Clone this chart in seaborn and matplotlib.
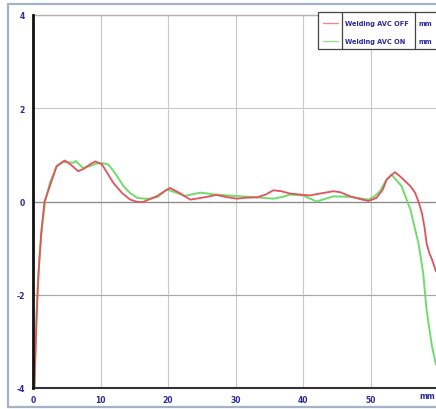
import numpy as np
import pandas as pd
import matplotlib
matplotlib.use("Agg")
import matplotlib.pyplot as plt
import seaborn as sns
from matplotlib.lines import Line2D
from matplotlib.patches import Rectangle

# ---- data ----
x_off = [0.2, 0.5, 0.8, 1.2, 1.7, 2.5, 3.5, 4.7, 5.5, 6.7, 7.5, 8.5, 9.2, 10.2, 11.9,
         13.2, 14.4, 15.5, 16.3, 17.3, 18.3, 19.5, 20.3, 21.5, 23.3, 25, 27.2, 28.5, 30.2,
         31.5, 33.2, 34.5, 35.6, 36.8, 38.1, 39.5, 41, 42.5, 44.5, 45.5, 47, 48.5, 49.7,
         50.9, 51.8, 52.4, 53.6, 54.3, 55.1, 55.9, 56.6, 57.1, 57.6, 58.0, 58.3, 58.7, 59.1, 59.7]
y_off = [-4, -2.6, -1.6, -0.7, 0.0, 0.33, 0.76, 0.88, 0.8, 0.65, 0.7, 0.8, 0.86, 0.8, 0.4,
         0.18, 0.04, -0.01, -0.01, 0.05, 0.11, 0.22, 0.29, 0.2, 0.04, 0.08, 0.14, 0.1, 0.06,
         0.08, 0.09, 0.15, 0.24, 0.22, 0.17, 0.15, 0.13, 0.17, 0.22, 0.2, 0.11, 0.05, 0.01,
         0.08, 0.25, 0.47, 0.63, 0.55, 0.44, 0.33, 0.19, 0.0, -0.24, -0.55, -0.89, -1.1, -1.24, -1.5]

x_on = [0.2, 0.6, 0.9, 1.3, 1.8, 2.5, 3.5, 4.5, 5.3, 6.0, 6.3, 7.4, 8.5, 9.5, 10.5,
        11.2, 12.3, 13.4, 14.4, 15.4, 16.5, 17.3, 18.5, 19.8, 21.0, 22.5, 24.8, 27, 29.7,
        32, 34, 35.6, 37, 38.1, 40, 42, 44.5, 47, 49.7, 50.5, 51.4, 52.3, 53.1, 54.6,
        55.9, 57.1, 57.8, 58.3, 59.1, 59.7]
y_on = [-4, -2.1, -1.3, -0.6, 0.0, 0.4, 0.75, 0.85, 0.84, 0.83, 0.87, 0.72, 0.76, 0.82, 0.82,
        0.79, 0.58, 0.33, 0.18, 0.08, 0.06, 0.06, 0.1, 0.26, 0.2, 0.12, 0.19, 0.15, 0.12,
        0.1, 0.08, 0.06, 0.1, 0.15, 0.13, 0.0, 0.11, 0.1, 0.04, 0.1, 0.22, 0.45, 0.58, 0.33,
        -0.17, -0.89, -1.53, -2.32, -3.1, -3.5]

series_names = ["Welding AVC OFF", "Welding AVC ON"]
series_units = ["mm", "mm"]
x_ticks = [0, 10, 20, 30, 40, 50]
x_tick_labels = ["0", "10", "20", "30", "40", "50"]
y_ticks = [-4, -2, 0, 2, 4]
y_tick_labels = ["-4", "-2", "0", "2", "4"]
x_unit_label = "mm"

RED = "#e4535c"
GREEN = "#70dc6c"
NAVY = "#2a2a9c"

df_off = pd.DataFrame({"x": x_off, "y": y_off})
df_on = pd.DataFrame({"x": x_on, "y": y_on})

sns.set_style("white")
fig = plt.figure(figsize=(4.36, 4.10), dpi=100)
W, H = 436, 410
ax = fig.add_axes([33 / W, 21 / H, (W - 33) / W, 373 / H])

sns.lineplot(data=df_on, x="x", y="y", ax=ax, color=GREEN, linewidth=1.4,
             sort=False, estimator=None, legend=False)
sns.lineplot(data=df_off, x="x", y="y", ax=ax, color=RED, linewidth=1.3,
             sort=False, estimator=None, legend=False)

ax.set_xlim(0, (W - 33) / 6.75)
ax.set_ylim(-4, 4)
ax.set_xlabel("")
ax.set_ylabel("")

ax.set_xticks(x_ticks)
ax.set_xticklabels(x_tick_labels)
ax.set_yticks(y_ticks)
ax.set_yticklabels(y_tick_labels)
ax.set_xticks([5, 15, 25, 35, 45, 55], minor=True)
ax.set_yticks([-3, -1, 1, 3], minor=True)

ax.grid(True, which="major", color="#c8c8c8", linewidth=0.8)
ax.axhline(0, color="#8a8a8a", linewidth=0.9, zorder=1)
ax.axhline(-2, color="#a8a8a8", linewidth=0.8, zorder=1)
ax.axhline(4, color="#b8b0a8", linewidth=1.0, zorder=1, clip_on=False)

for s in ["top", "right"]:
    ax.spines[s].set_visible(False)
ax.spines["left"].set_color("#111111")
ax.spines["left"].set_linewidth(2.0)
ax.spines["bottom"].set_color("#333333")
ax.spines["bottom"].set_linewidth(1.5)
ax.spines["left"].set_zorder(5)

ax.tick_params(axis="both", which="major", direction="inout", length=6, width=1.2,
               color="#222222", labelsize=5.5, labelcolor=NAVY, pad=2)
ax.tick_params(axis="y", which="major", pad=3)
ax.tick_params(axis="both", which="minor", direction="inout", length=4, width=1.0,
               color="#333333")
for lab in ax.get_xticklabels() + ax.get_yticklabels():
    lab.set_fontweight("bold")

# unit label at the right end of the x axis
fig.text(435 / W, (H - 397) / H, x_unit_label, ha="right", va="center", fontsize=5.5,
         color=NAVY, fontweight="bold")

# outer frame of the panel
fig.add_artist(Line2D([8 / W, 8 / W], [2 / H, 405 / H], transform=fig.transFigure,
                      color="#a3b3c6", linewidth=1.6))
fig.add_artist(Line2D([8 / W, 1.0], [405 / H, 405 / H], transform=fig.transFigure,
                      color="#a3b3c6", linewidth=1.6))
fig.add_artist(Line2D([8 / W, 1.0], [2 / H, 2 / H], transform=fig.transFigure,
                      color="#a3b3c6", linewidth=1.6))

# legend table
lx0, lx1, ly_top, ly_bot = 318, 442, 13, 50
fig.add_artist(Rectangle((lx0 / W, (H - ly_bot) / H), (lx1 - lx0) / W, (ly_bot - ly_top) / H,
                         transform=fig.transFigure, facecolor="white",
                         edgecolor="#444444", linewidth=0.9, zorder=10))
for dx in (342, 415):
    fig.add_artist(Line2D([dx / W, dx / W], [(H - ly_bot) / H, (H - ly_top) / H],
                          transform=fig.transFigure, color="#444444", linewidth=0.9, zorder=11))
for i, (name, unit, col) in enumerate(zip(series_names, series_units, ["#ee8a8a", "#98e094"])):
    yy = (H - (24 + 18 * i)) / H
    fig.add_artist(Line2D([323 / W, 338 / W], [yy, yy], transform=fig.transFigure,
                          color=col, linewidth=1.0, zorder=11))
    fig.text(345 / W, yy, name, ha="left", va="center", fontsize=4.8, color=NAVY,
             fontweight="bold", zorder=12)
    fig.text(418 / W, yy, unit, ha="left", va="center", fontsize=4.8, color=NAVY,
             fontweight="bold", zorder=12)

fig.savefig("out.png", dpi=100)
